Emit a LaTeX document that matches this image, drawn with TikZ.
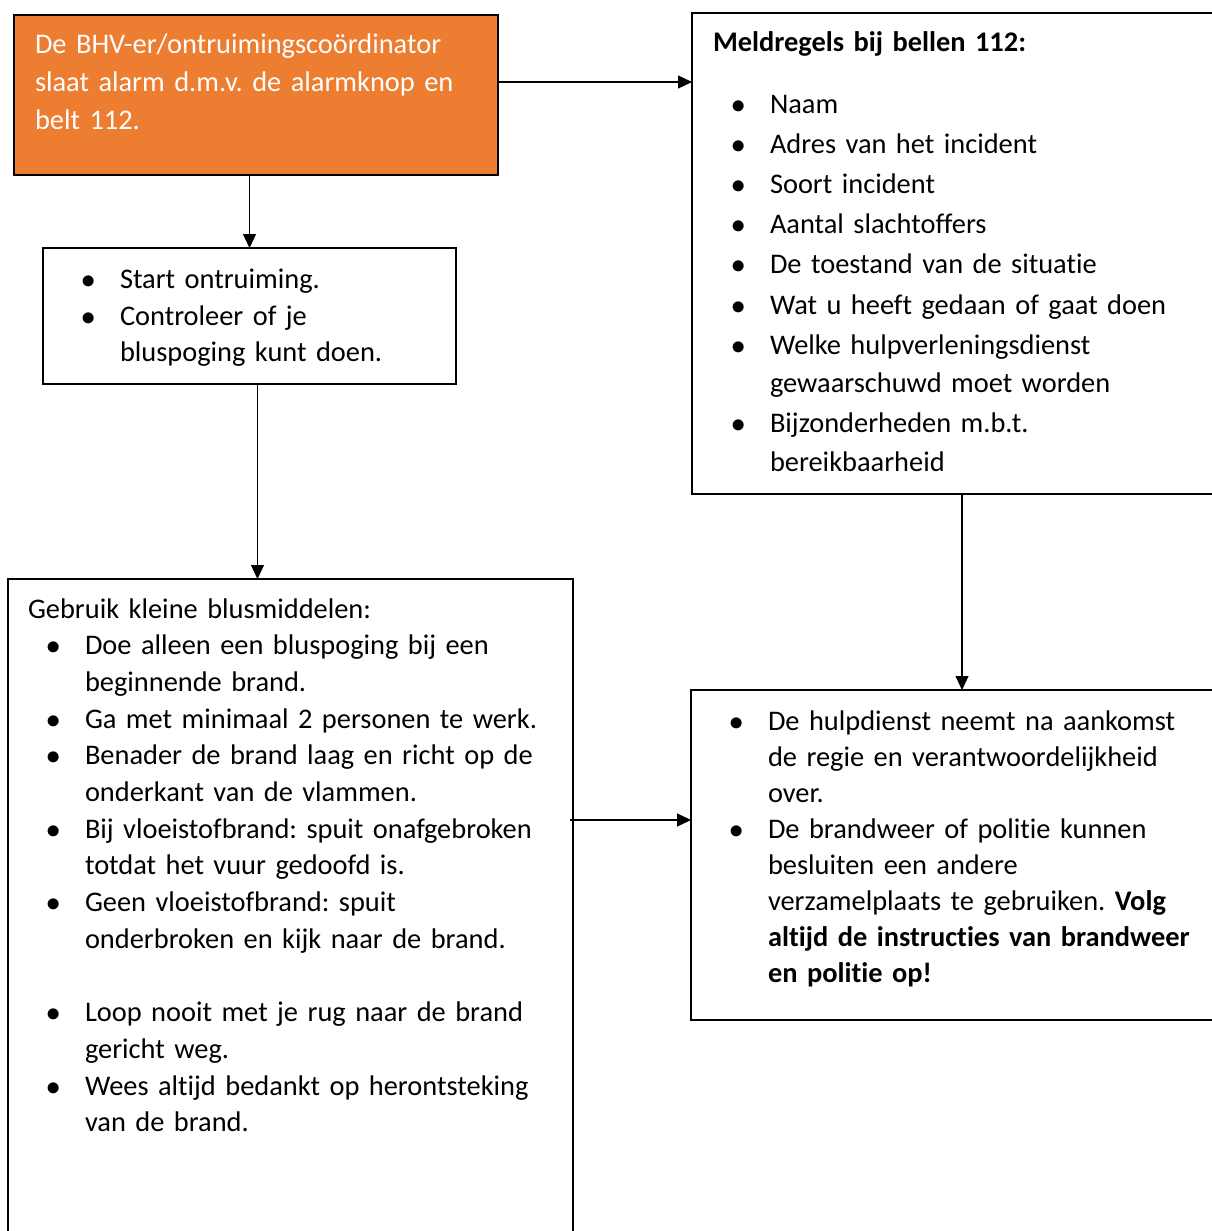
\documentclass[tikz,border=0pt]{standalone}
\usepackage{fontspec}
\setmainfont{Carlito}[Ligatures=NoCommon]
\usepackage{enumitem}
\usetikzlibrary{arrows.meta}
\definecolor{alarmorange}{HTML}{ED7D31}
\setlist[itemize]{label=\scalebox{1.15}{$\bullet$}, leftmargin=57pt, labelsep=24.5pt,
  topsep=0pt, partopsep=0pt, parsep=0pt, itemsep=0pt}
\frenchspacing

\begin{document}
\begin{tikzpicture}[x=1pt, y=-1pt,
    box/.style={draw, line width=1.2pt, anchor=north west, inner sep=0pt, outer sep=0pt},
    txt/.style={anchor=base west, inner sep=0pt, outer sep=0pt, text width=#1, align=left},
    arrow/.style={line width=1.2pt, -{Triangle[length=14pt, width=13pt]}}]

    \useasboundingbox (0, 0) rectangle (1212, 1231);
    \clip (0, 0) rectangle (1212, 1231);

    % boxes
    \node[box, fill=alarmorange, minimum width=484pt, minimum height=160pt] (alarm) at (14, 15) {};
    \node[box, minimum width=540pt, minimum height=481pt] (meld) at (692, 13) {};
    \node[box, minimum width=413pt, minimum height=136pt] (start) at (43, 248) {};
    \node[box, minimum width=565pt, minimum height=700pt] (blus) at (8, 579) {};
    \node[box, minimum width=540pt, minimum height=330pt] (hulp) at (691, 690) {};

    % texts
    \node[txt=470pt, text=white, font=\fontsize{28.4}{38}\selectfont] (alarmtxt) at (35, 53)
        {De BHV-er/ontruimingscoördinator\\ slaat alarm d.m.v. de alarmknop en\\ belt 112.};

    \node[txt=520pt, font=\fontsize{28.4}{38.2}\selectfont] (meldtxt) at (713, 52) {%
        \textbf{Meldregels bij bellen 112:}\par\vspace{23pt}
        \begin{itemize}[itemsep=2pt]
            \item Naam
            \item Adres van het incident
            \item Soort incident
            \item Aantal slachtoffers
            \item De toestand van de situatie
            \item Wat u heeft gedaan of gaat doen
            \item Welke hulpverleningsdienst\\ gewaarschuwd moet worden
            \item Bijzonderheden m.b.t.\\ bereikbaarheid
        \end{itemize}};

    \node[txt=390pt, font=\fontsize{28.4}{36.5}\selectfont] (starttxt) at (63, 252) {%
        \begin{itemize}
            \item Start ontruiming.
            \item Controleer of je\\ bluspoging kunt doen.
        \end{itemize}};

    \node[txt=545pt, font=\fontsize{28.4}{36.7}\selectfont] (blustxt) at (28, 618) {%
        Gebruik kleine blusmiddelen:
        \begin{itemize}
            \item Doe alleen een bluspoging bij een\\ beginnende brand.
            \item Ga met minimaal 2 personen te werk.
            \item Benader de brand laag en richt op de\\ onderkant van de vlammen.
            \item Bij vloeistofbrand: spuit onafgebroken\\ totdat het vuur gedoofd is.
            \item Geen vloeistofbrand: spuit\\ onderbroken en kijk naar de brand.
            \item[] \mbox{}
            \item Loop nooit met je rug naar de brand\\ gericht weg.
            \item Wees altijd bedankt op herontsteking\\ van de brand.
        \end{itemize}};

    \node[txt=520pt, font=\fontsize{28.4}{36}\selectfont] (hulptxt) at (711, 694) {%
        \begin{itemize}
            \item De hulpdienst neemt na aankomst\\ de regie en verantwoordelijkheid\\ over.
            \item De brandweer of politie kunnen\\ besluiten een andere\\ verzamelplaats te gebruiken. \textbf{Volg}\\ \textbf{altijd de instructies van brandweer}\\ \textbf{en politie op!}
        \end{itemize}};

    % arrows
    \draw[arrow] ([yshift=-67pt]alarm.north east) -- ([yshift=-67pt]alarm.north east -| meld.west);
    \draw[arrow] (alarm.south -| start.north) -- (start.north);
    \draw[arrow] ([xshift=8pt]start.south) -- ([xshift=8pt]start.south |- blus.north);
    \draw[arrow] ([yshift=-241pt, xshift=-3pt]blus.north east) -- ([yshift=-241pt]blus.north east -| hulp.west);
    \draw[arrow] (meld.south) -- (meld.south |- hulp.north);

\end{tikzpicture}
\end{document}
